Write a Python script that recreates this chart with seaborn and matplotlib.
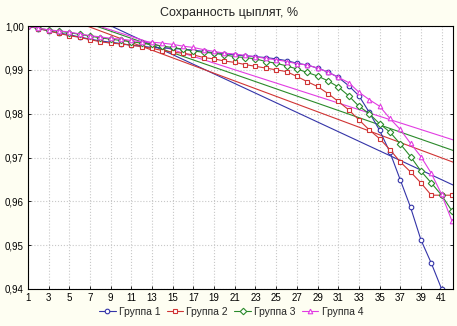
import numpy as np
import pandas as pd
import matplotlib
matplotlib.use("Agg")
import matplotlib.pyplot as plt
import seaborn as sns
from matplotlib.ticker import FuncFormatter, FixedLocator

days = list(range(1, 43))

group1 = [1.0000, 0.9994, 0.9989, 0.9984, 0.9980, 0.9975, 0.9970, 0.9966, 0.9963, 0.9960,
          0.9956, 0.9954, 0.9951, 0.9950, 0.9949, 0.9947, 0.9945, 0.9942, 0.9939, 0.9937,
          0.9934, 0.9932, 0.9930, 0.9928, 0.9925, 0.9921, 0.9915, 0.9911, 0.9904, 0.9895,
          0.9883, 0.9864, 0.9841, 0.9803, 0.9762, 0.9712, 0.9649, 0.9586, 0.9512, 0.9459,
          0.9400, 0.9340]
group2 = [1.0000, 0.9994, 0.9989, 0.9983, 0.9978, 0.9974, 0.9969, 0.9964, 0.9961, 0.9959,
          0.9956, 0.9953, 0.9949, 0.9944, 0.9940, 0.9938, 0.9934, 0.9928, 0.9925, 0.9920,
          0.9917, 0.9912, 0.9908, 0.9904, 0.9900, 0.9896, 0.9885, 0.9873, 0.9862, 0.9846,
          0.9828, 0.9809, 0.9786, 0.9763, 0.9743, 0.9718, 0.9690, 0.9667, 0.9642, 0.9614,
          0.9614, 0.9614]
group3 = [1.0000, 0.9995, 0.9991, 0.9988, 0.9985, 0.9981, 0.9977, 0.9973, 0.9970, 0.9967,
          0.9964, 0.9961, 0.9958, 0.9954, 0.9951, 0.9947, 0.9943, 0.9940, 0.9938, 0.9934,
          0.9930, 0.9928, 0.9925, 0.9919, 0.9915, 0.9909, 0.9902, 0.9894, 0.9886, 0.9875,
          0.9861, 0.9841, 0.9817, 0.9800, 0.9777, 0.9758, 0.9731, 0.9702, 0.9669, 0.9642,
          0.9614, 0.9578]
group4 = [1.0000, 0.9995, 0.9991, 0.9989, 0.9986, 0.9982, 0.9978, 0.9975, 0.9972, 0.9970,
          0.9967, 0.9964, 0.9963, 0.9961, 0.9958, 0.9954, 0.9951, 0.9946, 0.9942, 0.9938,
          0.9936, 0.9933, 0.9930, 0.9926, 0.9923, 0.9919, 0.9914, 0.9911, 0.9904, 0.9895,
          0.9883, 0.9871, 0.9849, 0.9832, 0.9817, 0.9789, 0.9764, 0.9732, 0.9702, 0.9664,
          0.9616, 0.9555]

series_names = ["Группа 1", "Группа 2", "Группа 3", "Группа 4"]
series_values = [group1, group2, group3, group4]
colors = ["#3434a8", "#d03434", "#2a8a2a", "#e23ce2"]
markers = ["o", "s", "D", "^"]
x_ticks = list(range(1, 42, 2))
y_ticks = [0.94, 0.95, 0.96, 0.97, 0.98, 0.99, 1.00]
title = "Сохранность цыплят, %"

sns.set_theme(style="white")
plt.rcParams["font.family"] = ["Liberation Sans", "DejaVu Sans"]

W, H = 457, 326
fig = plt.figure(figsize=(W / 100, H / 100), dpi=100, facecolor="#fefef2")
ax = fig.add_axes([28 / W, 1 - 289 / H, (453 - 28) / W, (289 - 26) / H])
ax.set_facecolor("white")
ax.set_xlim(1, 42.1)
ax.set_ylim(0.94, 1.0)

for vals, c in zip(series_values, colors):
    sns.regplot(x=days, y=vals, ax=ax, scatter=False, ci=None, truncate=False,
                color=c, line_kws=dict(lw=0.8))

for name, vals, c, m in zip(series_names, series_values, colors, markers):
    sns.lineplot(x=days, y=vals, ax=ax, color=c, marker=m, label=name, lw=0.8,
                 markersize=3.3, markerfacecolor="white", markeredgecolor=c,
                 markeredgewidth=0.8)

ax.set_xlim(1, 42.1)
ax.set_ylim(0.94, 1.0)
ax.set_xlabel("")
ax.set_ylabel("")
ax.xaxis.set_major_locator(FixedLocator(x_ticks))
ax.yaxis.set_major_locator(FixedLocator(y_ticks))
ax.yaxis.set_major_formatter(FuncFormatter(lambda v, p: f"{v:.2f}".replace(".", ",")))
ax.tick_params(axis="both", labelsize=7, length=2.5, width=0.6, direction="in",
               colors="black", pad=3, right=True, left=True, bottom=True)
ax.grid(True, color="#c8c8c8", linestyle=":", lw=0.8)
for s in ax.spines.values():
    s.set_color("black")
    s.set_linewidth(0.8)

leg = ax.get_legend()
if leg is not None:
    leg.remove()
handles, labels = ax.get_legend_handles_labels()
fig.legend(handles, labels, loc="center", bbox_to_anchor=(231 / W, 1 - 312 / H),
           ncol=4, frameon=False, fontsize=7.5, handlelength=1.6, columnspacing=0.6,
           handletextpad=0.3, borderaxespad=0)

fig.text(229 / W, 1 - 13 / H, title, ha="center", va="center", fontsize=9)

fig.savefig("out.png", dpi=100, facecolor=fig.get_facecolor())
